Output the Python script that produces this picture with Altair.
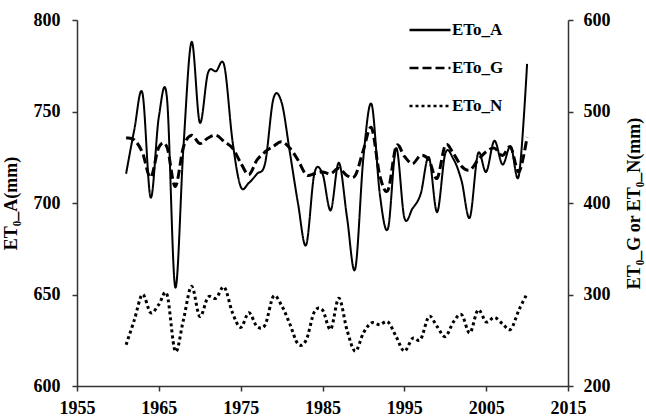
import altair as alt
import pandas as pd

years = list(range(1961, 2011))

eto_a = [716, 740, 760, 703, 747, 757, 654, 730, 788, 744,
         771, 772, 775, 734, 709, 711, 716, 722, 757, 755,
         728, 700, 677, 716, 716, 696, 722, 692, 664, 725,
         754, 705, 686, 730, 692, 697, 705, 725, 695, 727,
         724, 712, 692, 727, 717, 734, 721, 731, 715, 776]

eto_g = [471, 469, 455, 428, 461, 461, 418, 461, 474, 465,
         471, 474, 467, 460, 444, 431, 447, 456, 462, 467,
         460, 447, 431, 432, 434, 432, 438, 430, 430, 458,
         482, 430, 414, 462, 451, 443, 452, 447, 427, 463,
         454, 440, 436, 447, 456, 460, 452, 461, 434, 472]

eto_n = [245, 272, 300, 280, 289, 300, 238, 272, 309, 276,
         297, 296, 308, 280, 264, 280, 265, 267, 298, 288,
         268, 246, 250, 281, 283, 262, 296, 261, 238, 258,
         269, 267, 270, 254, 238, 252, 251, 276, 265, 254,
         270, 278, 258, 283, 270, 275, 268, 262, 283, 301]

series_names = ["ETo_A", "ETo_G", "ETo_N"]
x_ticks = [1955, 1965, 1975, 1985, 1995, 2005, 2015]
left_ticks = [600, 650, 700, 750, 800]
right_ticks = [200, 300, 400, 500, 600]

df_a = pd.DataFrame({"year": years, "value": eto_a, "series": "ETo_A"})
df_gn = pd.concat([
    pd.DataFrame({"year": years, "value": eto_g, "series": "ETo_G"}),
    pd.DataFrame({"year": years, "value": eto_n, "series": "ETo_N"}),
])

FONT = "Liberation Serif"

dash = alt.StrokeDash(
    "series:N",
    scale=alt.Scale(domain=series_names, range=[[1, 0], [9, 4], [3, 3]]),
    legend=alt.Legend(
        title=None,
        orient="none",
        legendX=331,
        legendY=-12,
        symbolType="stroke",
        symbolSize=1681,
        symbolStrokeWidth=2.5,
        symbolStrokeColor="black",
        labelFont=FONT,
        labelFontSize=17,
        labelFontWeight="bold",
        labelColor="black",
        labelOffset=0,
        rowPadding=8,
    ),
)

x_enc = alt.X(
    "year:Q",
    scale=alt.Scale(domain=[1955, 2015], nice=False, zero=False),
    axis=alt.Axis(values=x_ticks, format="d", title=None, labelFlush=False,
                  labelPadding=8, tickSize=5),
)

line_a = alt.Chart(df_a).mark_line(
    color="black", strokeWidth=2, interpolate="cardinal"
).encode(
    x=x_enc,
    y=alt.Y("value:Q", scale=alt.Scale(domain=[600, 800], nice=False, zero=False),
            axis=alt.Axis(values=left_ticks, title="ET₀_A(mm)", orient="left",
                          labelPadding=12, tickSize=5, titlePadding=13,
                          titleColor="black")),
    strokeDash=dash,
)

line_gn = alt.Chart(df_gn).mark_line(
    color="black", strokeWidth=3, interpolate="cardinal"
).encode(
    x=x_enc,
    y=alt.Y("value:Q", scale=alt.Scale(domain=[200, 600], nice=False, zero=False),
            axis=alt.Axis(values=right_ticks, title="ET₀_G or ET₀_N(mm)", orient="right",
                          labelPadding=10, tickSize=5, titlePadding=15,
                          titleAngle=270, titleBaseline="top", titleColor="black")),
    strokeDash=dash,
)

chart = alt.layer(line_a, line_gn).resolve_scale(y="independent").properties(
    width=491,
    height=366,
    background="white",
    autosize=alt.AutoSizeParams(type="none"),
    padding={"left": 77, "top": 20, "right": 78, "bottom": 33},
).configure_view(stroke=None).configure_axis(
    grid=False,
    domainColor="#333333",
    domainWidth=1.5,
    tickColor="#333333",
    tickWidth=1.5,
    labelFont=FONT,
    labelFontSize=18,
    labelFontWeight="bold",
    labelColor="black",
    titleFont=FONT,
    titleFontSize=18,
    titleFontWeight="bold",
    titleColor="black",
)

chart.save("out.html", embed_options={"renderer": "svg", "actions": False})
